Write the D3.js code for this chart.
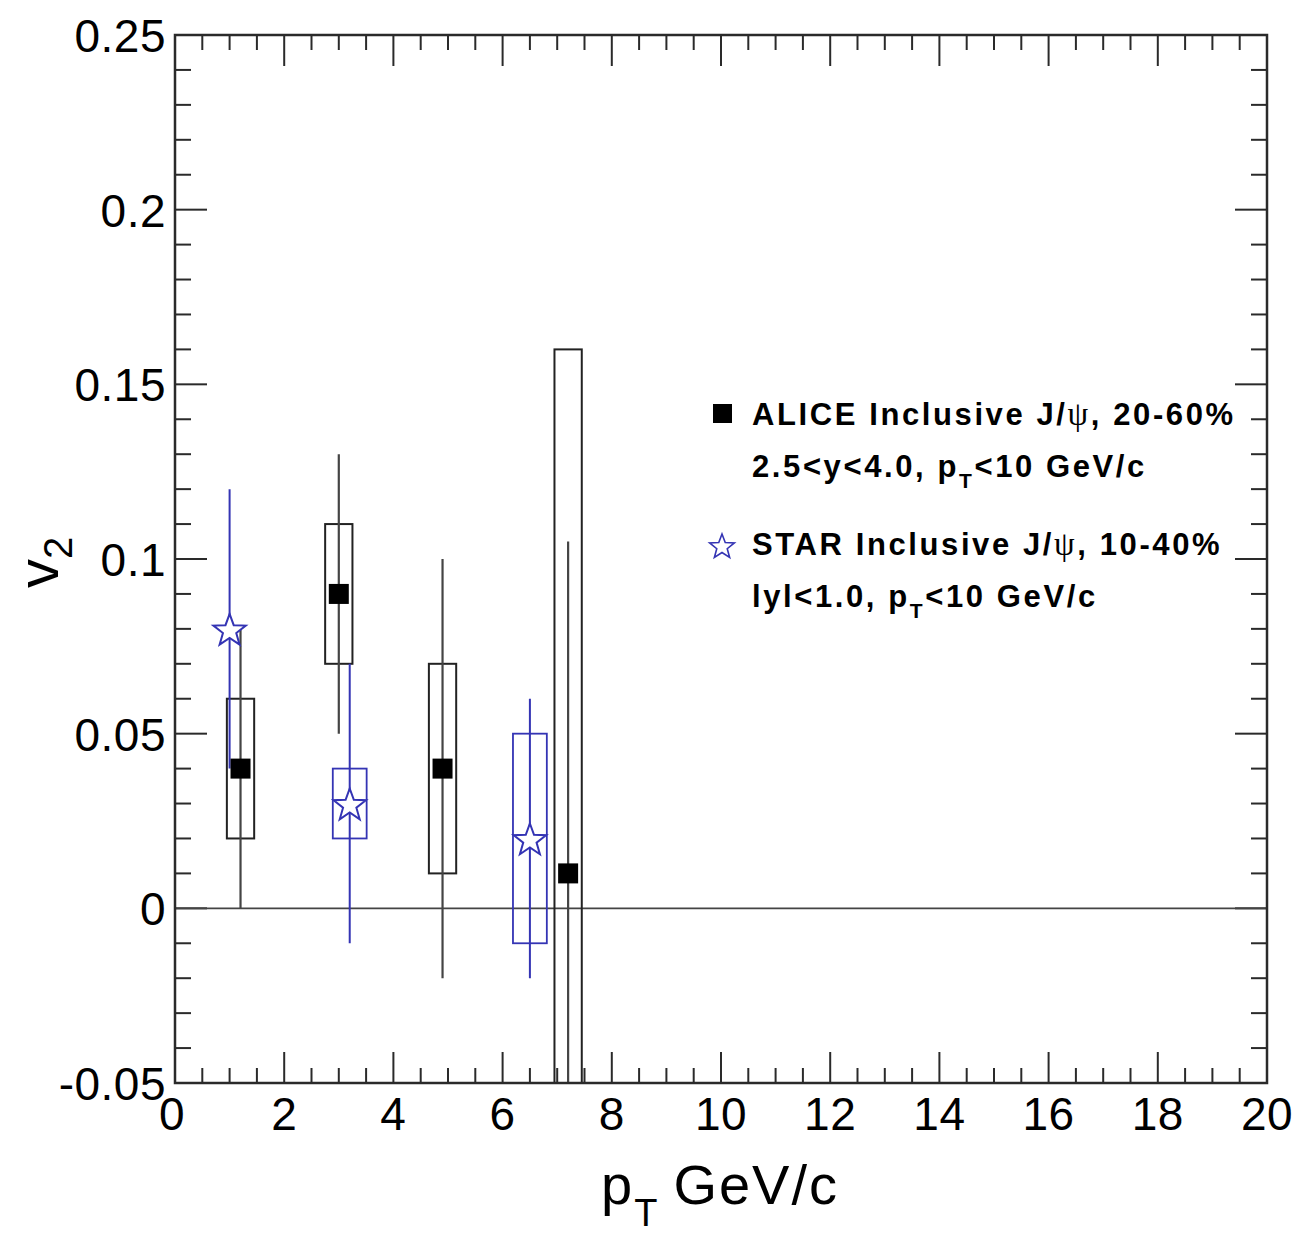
<!DOCTYPE html>
<html>
<head>
<meta charset="utf-8">
<script src="https://cdn.jsdelivr.net/npm/d3@7"></script>
<style>
  body { margin: 0; background: #fff; }
  svg { display: block; }
  text { font-family: "Liberation Sans", Arial, Helvetica, sans-serif; }
</style>
</head>
<body>
<svg id="chart" width="1299" height="1234"></svg>
<script>
// ALICE inclusive J/psi, 20-60%
const aliceX = [1.2, 3.0, 4.9, 7.2];
const aliceY = [0.04, 0.09, 0.04, 0.01];
const aliceStat = [0.04, 0.04, 0.06, 0.095];
const aliceSys = [0.02, 0.02, 0.03, 0.15];
const aliceBoxHalf = 0.25;

// STAR inclusive J/psi, 10-40%
const starX = [1.0, 3.2, 6.5];
const starY = [0.08, 0.03, 0.02];
const starStat = [0.04, 0.04, 0.04];
const starSys = [0, 0.01, 0.03];
const starBoxHalf = 0.31;

const xTicks = [0, 2, 4, 6, 8, 10, 12, 14, 16, 18, 20];
const yTicks = [-0.05, 0, 0.05, 0.1, 0.15, 0.2, 0.25];
const yTickLabels = ["-0.05", "0", "0.05", "0.1", "0.15", "0.2", "0.25"];

const legendLines = [
  ["ALICE Inclusive J/", "ψ", ", 20-60%"],
  ["STAR Inclusive J/", "ψ", ", 10-40%"]
];

const blue = "#3434b4";
const frameColor = "#2a2a2a";

const svg = d3.select("#chart");
const L = 175, R = 1267, T = 35, B = 1083;

const x = d3.scaleLinear().domain([0, 20]).range([L, R]);
const y = d3.scaleLinear().domain([-0.05, 0.25]).range([B, T]);

// clip
svg.append("defs").append("clipPath").attr("id", "clip")
  .append("rect").attr("x", L).attr("y", T).attr("width", R - L).attr("height", B - T);

// ticks (ROOT style on all four sides)
const ticksG = svg.append("g").attr("stroke", frameColor).attr("stroke-width", 2);
const xMinor = d3.range(0, 20.001, 0.5);
xMinor.forEach(v => {
  const major = Math.abs(v / 2 - Math.round(v / 2)) < 1e-6;
  const len = major ? 31 : 15;
  ticksG.append("line").attr("x1", x(v)).attr("x2", x(v)).attr("y1", B).attr("y2", B - len);
  ticksG.append("line").attr("x1", x(v)).attr("x2", x(v)).attr("y1", T).attr("y2", T + len);
});
const yMinor = d3.range(-0.05, 0.2501, 0.01);
yMinor.forEach((v, i) => {
  const major = i % 5 === 0;
  const len = major ? 32 : 16;
  ticksG.append("line").attr("x1", L).attr("x2", L + len).attr("y1", y(v)).attr("y2", y(v));
  ticksG.append("line").attr("x1", R).attr("x2", R - len).attr("y1", y(v)).attr("y2", y(v));
});

// zero line
svg.append("line")
  .attr("x1", L).attr("x2", R).attr("y1", y(0)).attr("y2", y(0))
  .attr("stroke", "#444").attr("stroke-width", 1.8);

const plot = svg.append("g").attr("clip-path", "url(#clip)");

// ALICE systematic boxes
plot.selectAll(".aliceBox").data(aliceX).enter().append("rect")
  .attr("x", (d) => x(d - aliceBoxHalf))
  .attr("width", (d) => x(d + aliceBoxHalf) - x(d - aliceBoxHalf))
  .attr("y", (d, i) => y(aliceY[i] + aliceSys[i]))
  .attr("height", (d, i) => y(aliceY[i] - aliceSys[i]) - y(aliceY[i] + aliceSys[i]))
  .attr("fill", "none").attr("stroke", "#222").attr("stroke-width", 2);

// ALICE stat bars
plot.selectAll(".aliceErr").data(aliceX).enter().append("line")
  .attr("x1", (d) => x(d)).attr("x2", (d) => x(d))
  .attr("y1", (d, i) => y(aliceY[i] + aliceStat[i]))
  .attr("y2", (d, i) => y(aliceY[i] - aliceStat[i]))
  .attr("stroke", "#444").attr("stroke-width", 2.2);

// STAR systematic boxes
plot.selectAll(".starBox").data(starX.filter((d, i) => starSys[i] > 0)).enter().append("rect")
  .attr("x", (d) => x(d - starBoxHalf))
  .attr("width", (d) => x(d + starBoxHalf) - x(d - starBoxHalf))
  .attr("y", (d) => { const i = starX.indexOf(d); return y(starY[i] + starSys[i]); })
  .attr("height", (d) => { const i = starX.indexOf(d); return y(starY[i] - starSys[i]) - y(starY[i] + starSys[i]); })
  .attr("fill", "none").attr("stroke", blue).attr("stroke-width", 1.8);

// STAR stat bars
plot.selectAll(".starErr").data(starX).enter().append("line")
  .attr("x1", (d) => x(d)).attr("x2", (d) => x(d))
  .attr("y1", (d, i) => y(starY[i] + starStat[i]))
  .attr("y2", (d, i) => y(starY[i] - starStat[i]))
  .attr("stroke", blue).attr("stroke-width", 2);

// star marker path
function starPath(cx, cy, ro, ri) {
  const pts = [];
  for (let k = 0; k < 10; k++) {
    const r = k % 2 === 0 ? ro : ri;
    const a = -Math.PI / 2 + k * Math.PI / 5;
    pts.push([cx + r * Math.cos(a), cy + r * Math.sin(a)]);
  }
  return "M" + pts.map(p => p[0].toFixed(2) + "," + p[1].toFixed(2)).join("L") + "Z";
}

// ALICE markers
plot.selectAll(".aliceMk").data(aliceX).enter().append("rect")
  .attr("x", (d) => x(d) - 10).attr("y", (d, i) => y(aliceY[i]) - 10)
  .attr("width", 20).attr("height", 20).attr("fill", "#000");

// STAR markers
plot.selectAll(".starMk").data(starX).enter().append("path")
  .attr("d", (d, i) => starPath(x(d), y(starY[i]) + 2, 17, 7))
  .attr("fill", "#fff").attr("stroke", blue).attr("stroke-width", 2);

// frame
svg.append("rect").attr("x", L).attr("y", T).attr("width", R - L).attr("height", B - T)
  .attr("fill", "none").attr("stroke", frameColor).attr("stroke-width", 2.5);

// tick labels
svg.selectAll(".xl").data(xTicks).enter().append("text")
  .attr("x", (d) => x(d) - (d === 0 ? 3 : 0)).attr("y", 1130)
  .attr("text-anchor", "middle").attr("font-size", 46).attr("letter-spacing", 0.5)
  .attr("fill", "#000").text((d) => d);

svg.selectAll(".yl").data(yTicks).enter().append("text")
  .attr("x", 166).attr("y", (d) => y(d) + 17)
  .attr("text-anchor", "end").attr("font-size", 46).attr("letter-spacing", 0.5)
  .attr("fill", "#000").text((d, i) => yTickLabels[i]);

// axis titles
const xt = svg.append("text").attr("x", 601).attr("y", 1204).attr("font-size", 56)
  .attr("letter-spacing", 2).attr("fill", "#000");
xt.append("tspan").text("p");
xt.append("tspan").attr("font-size", 38).attr("dy", 22).text("T");
xt.append("tspan").attr("dy", -22).attr("dx", 14).text("GeV/c");

const yt = svg.append("text").attr("transform", "translate(58,588) rotate(-90)")
  .attr("font-size", 58).attr("fill", "#000");
yt.append("tspan").text("v");
yt.append("tspan").attr("font-size", 40).attr("dy", 14).text("2");

// legend
const lg = svg.append("g").attr("font-weight", "bold").attr("font-size", 31)
  .attr("letter-spacing", 2.6).attr("fill", "#000");
lg.append("rect").attr("x", 713).attr("y", 404).attr("width", 19).attr("height", 19).attr("fill", "#000");
lg.append("path").attr("d", starPath(722, 547, 13, 5.5))
  .attr("fill", "#fff").attr("stroke", blue).attr("stroke-width", 1.6);

function legendLine(parts, yy) {
  const t = lg.append("text").attr("x", 752).attr("y", yy);
  t.append("tspan").text(parts[0]);
  t.append("tspan").attr("font-family", "'Liberation Serif', 'DejaVu Serif', serif")
    .attr("font-weight", "normal").attr("font-size", 33).text(parts[1]);
  t.append("tspan").text(parts[2]);
}
legendLine(legendLines[0], 425);
legendLine(legendLines[1], 555);

const l2 = lg.append("text").attr("x", 752).attr("y", 477);
l2.append("tspan").text("2.5<y<4.0, p");
l2.append("tspan").attr("font-size", 21).attr("dy", 11).text("T");
l2.append("tspan").attr("dy", -11).text("<10 GeV/c");

const l4 = lg.append("text").attr("x", 752).attr("y", 607);
l4.append("tspan").text("lyl<1.0, p");
l4.append("tspan").attr("font-size", 21).attr("dy", 11).text("T");
l4.append("tspan").attr("dy", -11).text("<10 GeV/c");
</script>
</body>
</html>
